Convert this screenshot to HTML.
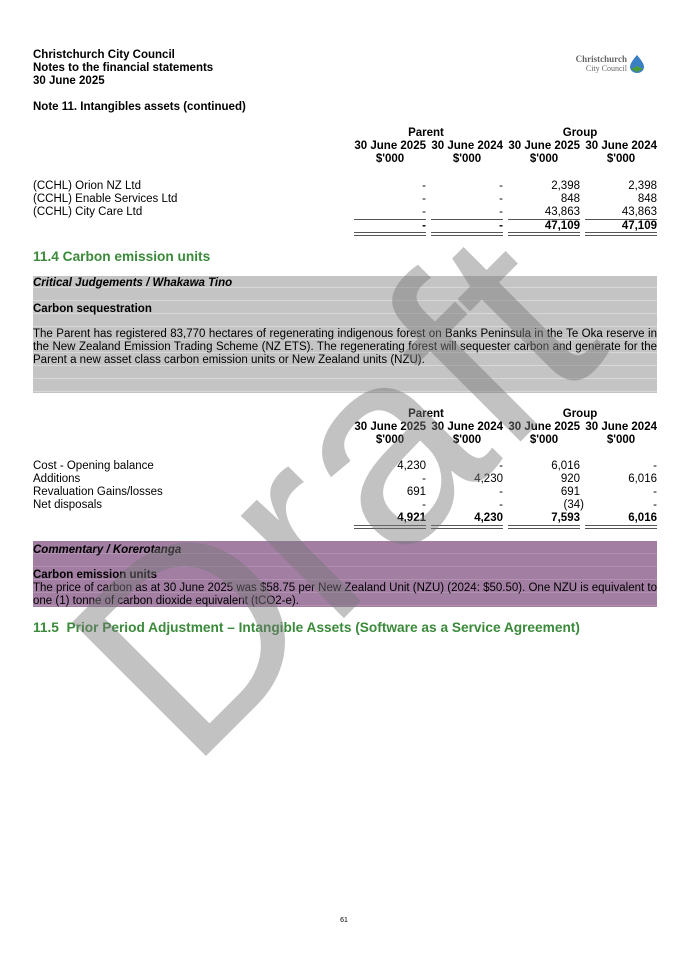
<!DOCTYPE html>
<html><head><meta charset="utf-8"><style>
body{margin:0;background:#fff;}
#p{position:relative;width:675px;height:955px;overflow:hidden;font-family:"Liberation Sans",Arial,sans-serif;font-size:11.5px;color:#000;}
.t{position:absolute;white-space:nowrap;line-height:13px;}
.b{font-weight:bold;}
.r{text-align:right;width:77px;}
.c{text-align:center;}
.h{color:#3a8a3a;font-size:13.7px;font-weight:bold;}
.ln{position:absolute;height:0;border-top:1px solid #555;}
.dl{position:absolute;height:2px;border-top:1px solid #555;border-bottom:1px solid #555;}
</style></head><body><div id="p">
<div class="t b" style="left:33px;top:49px">Christchurch City Council</div>
<div class="t b" style="left:33px;top:62px">Notes to the financial statements</div>
<div class="t b" style="left:33px;top:75px">30 June 2025</div>
<div class="t" style="left:567px;top:55px;font-family:'Liberation Serif',serif;font-size:9px;line-height:9px;color:#666;text-align:right;width:60px;font-weight:bold">Christchurch<br><span style="font-size:8px;font-weight:normal">City Council</span></div>
<svg style="position:absolute;left:628px;top:54px" width="18" height="19"><path d="M9 1 C3 8 2 11 2 13 A7 6 0 0 0 16 13 C16 11 15 8 9 1Z" fill="#3a7fc4"/><path d="M3 15 L9 12 L15 15 L9 18Z" fill="#4a9a3a"/></svg>
<div class="t b" style="left:33px;top:101px">Note 11. Intangibles assets (continued)</div>

<div class="t b c" style="left:349px;top:127px;width:154px">Parent</div>
<div class="t b c" style="left:503px;top:127px;width:154px">Group</div>
<div class="t b r" style="left:349px;top:140px">30 June 2025</div><div class="t b r" style="left:426px;top:140px">30 June 2024</div><div class="t b r" style="left:503px;top:140px">30 June 2025</div><div class="t b r" style="left:580px;top:140px">30 June 2024</div>
<div class="t b c" style="left:354px;top:153px;width:72px">$'000</div><div class="t b c" style="left:431px;top:153px;width:72px">$'000</div><div class="t b c" style="left:508px;top:153px;width:72px">$'000</div><div class="t b c" style="left:585px;top:153px;width:72px">$'000</div>

<div class="t" style="left:33px;top:180px">(CCHL) Orion NZ Ltd</div>
<div class="t" style="left:33px;top:193px">(CCHL) Enable Services Ltd</div>
<div class="t" style="left:33px;top:206px">(CCHL) City Care Ltd</div>
<div class="t r" style="left:349px;top:180px">-</div><div class="t r" style="left:426px;top:180px">-</div><div class="t r" style="left:503px;top:180px">2,398</div><div class="t r" style="left:580px;top:180px">2,398</div>
<div class="t r" style="left:349px;top:193px">-</div><div class="t r" style="left:426px;top:193px">-</div><div class="t r" style="left:503px;top:193px">848</div><div class="t r" style="left:580px;top:193px">848</div>
<div class="t r" style="left:349px;top:206px">-</div><div class="t r" style="left:426px;top:206px">-</div><div class="t r" style="left:503px;top:206px">43,863</div><div class="t r" style="left:580px;top:206px">43,863</div>
<div class="ln" style="left:354px;top:219px;width:72px"></div><div class="ln" style="left:431px;top:219px;width:72px"></div><div class="ln" style="left:508px;top:219px;width:72px"></div><div class="ln" style="left:585px;top:219px;width:72px"></div>
<div class="t b r" style="left:349px;top:220px">-</div><div class="t b r" style="left:426px;top:220px">-</div><div class="t b r" style="left:503px;top:220px">47,109</div><div class="t b r" style="left:580px;top:220px">47,109</div>
<div class="dl" style="left:354px;top:232px;width:72px"></div><div class="dl" style="left:431px;top:232px;width:72px"></div><div class="dl" style="left:508px;top:232px;width:72px"></div><div class="dl" style="left:585px;top:232px;width:72px"></div>

<div class="t h" style="left:33px;top:249px;line-height:16px">11.4 Carbon emission units</div>

<div style="position:absolute;left:33px;top:276px;width:624px;height:117px;background:#c4c4c4;background-image:repeating-linear-gradient(to bottom,transparent 0 11px,#d8d8d8 11px 12px,transparent 12px 13px)"></div>
<div class="t b" style="left:33px;top:277px;font-style:italic">Critical Judgements / Whakawa Tino</div>
<div class="t b" style="left:33px;top:303px">Carbon sequestration</div>
<div class="t" style="left:33px;top:328px;width:624px;white-space:normal;text-align:justify;text-align-last:left">The Parent has registered 83,770 hectares of regenerating indigenous forest on Banks Peninsula in the Te Oka reserve in the New Zealand Emission Trading Scheme (NZ ETS). The regenerating forest will sequester carbon and generate for the Parent a new asset class carbon emission units or New Zealand units (NZU).</div>

<div class="t b c" style="left:349px;top:408px;width:154px">Parent</div>
<div class="t b c" style="left:503px;top:408px;width:154px">Group</div>
<div class="t b r" style="left:349px;top:421px">30 June 2025</div><div class="t b r" style="left:426px;top:421px">30 June 2024</div><div class="t b r" style="left:503px;top:421px">30 June 2025</div><div class="t b r" style="left:580px;top:421px">30 June 2024</div>
<div class="t b c" style="left:354px;top:434px;width:72px">$'000</div><div class="t b c" style="left:431px;top:434px;width:72px">$'000</div><div class="t b c" style="left:508px;top:434px;width:72px">$'000</div><div class="t b c" style="left:585px;top:434px;width:72px">$'000</div>

<div class="t" style="left:33px;top:460px">Cost - Opening balance</div>
<div class="t" style="left:33px;top:473px">Additions</div>
<div class="t" style="left:33px;top:486px">Revaluation Gains/losses</div>
<div class="t" style="left:33px;top:499px">Net disposals</div>
<div class="t r" style="left:349px;top:460px">4,230</div><div class="t r" style="left:426px;top:460px">-</div><div class="t r" style="left:503px;top:460px">6,016</div><div class="t r" style="left:580px;top:460px">-</div>
<div class="t r" style="left:349px;top:473px">-</div><div class="t r" style="left:426px;top:473px">4,230</div><div class="t r" style="left:503px;top:473px">920</div><div class="t r" style="left:580px;top:473px">6,016</div>
<div class="t r" style="left:349px;top:486px">691</div><div class="t r" style="left:426px;top:486px">-</div><div class="t r" style="left:503px;top:486px">691</div><div class="t r" style="left:580px;top:486px">-</div>
<div class="t r" style="left:349px;top:499px">-</div><div class="t r" style="left:426px;top:499px">-</div><div class="t r" style="left:507px;top:499px">(34)</div><div class="t r" style="left:580px;top:499px">-</div>
<div class="t b r" style="left:349px;top:512px">4,921</div><div class="t b r" style="left:426px;top:512px">4,230</div><div class="t b r" style="left:503px;top:512px">7,593</div><div class="t b r" style="left:580px;top:512px">6,016</div>
<div class="dl" style="left:354px;top:525px;width:72px"></div><div class="dl" style="left:431px;top:525px;width:72px"></div><div class="dl" style="left:508px;top:525px;width:72px"></div><div class="dl" style="left:585px;top:525px;width:72px"></div>

<div style="position:absolute;left:33px;top:541px;width:624px;height:66px;background:#a27ea2;background-image:repeating-linear-gradient(to bottom,transparent 0 12px,#b092b0 12px 13px)"></div>
<div class="t b" style="left:33px;top:544px;font-style:italic">Commentary / Korerotanga</div>
<div class="t b" style="left:33px;top:569px">Carbon emission units</div>
<div class="t" style="left:33px;top:582px;width:624px;white-space:normal;text-align:justify;text-align-last:left">The price of carbon as at 30 June 2025 was $58.75 per New Zealand Unit (NZU) (2024: $50.50). One NZU is equivalent to one (1) tonne of carbon dioxide equivalent (tCO2-e).</div>

<div class="t h" style="left:33px;top:620px;line-height:16px">11.5&nbsp; Prior Period Adjustment – Intangible Assets (Software as a Service Agreement)</div>

<div class="t" style="left:336px;top:914px;font-size:7px;width:16px;text-align:center">61</div>

<svg style="position:absolute;left:0;top:0" width="675" height="955"><text transform="translate(190,772) rotate(-45)" font-family="Liberation Sans,Arial,sans-serif" font-size="275" fill="#777" fill-opacity="0.45">Draft</text></svg>
</div></body></html>
